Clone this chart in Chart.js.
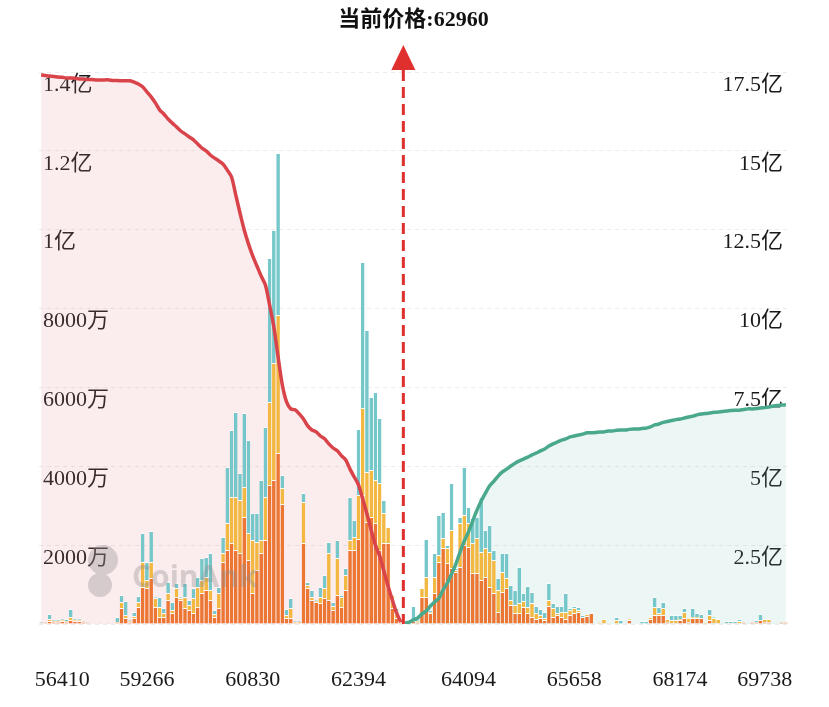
<!DOCTYPE html>
<html>
<head>
<meta charset="utf-8">
<script src="https://cdn.jsdelivr.net/npm/chart.js@4"></script>
<style>
  html, body { margin: 0; background: #fff; }
  #wrap { width: 829px; height: 707px; }
</style>
</head>
<body>
<div id="wrap"><canvas id="myChart"></canvas></div>
<script>
  // price bins (177), only some carry a tick label
  const xTickIdx  = [5, 25, 50, 75, 101, 126, 151, 171];
  const xTickText = ['56410', '59266', '60830', '62394', '64094', '65658', '68174', '69738'];
  const currentPrice = 62960;
  const currentIdx = 85.6;   // bin position of current price

  // liquidation per bin, in 万
  const orange = [
    25,25,76,51,51,76,51,101,76,76,
    51,25,13,0,0,0,0,13,25,406,
    152,51,152,431,938,913,1167,431,178,178,
    609,279,685,609,406,355,279,431,786,862,
    609,178,406,1572,1877,2054,1877,1801,2714,1623,
    786,1370,1801,2130,3525,3652,4337,3043,152,152,
    25,25,2054,913,609,558,533,659,609,355,
    735,431,862,1877,1877,2156,3272,2587,2714,2561,
    1877,2054,2054,406,152,25,25,25,76,51,
    685,685,279,786,1572,1927,1547,1420,1319,1446,
    2004,1953,1293,1293,1116,1192,938,786,304,812,
    913,482,279,279,431,279,178,127,152,101,
    456,178,228,178,127,228,279,304,178,203,
    279,0,0,25,0,0,0,0,0,101,
    0,0,0,0,127,228,228,228,51,25,
    25,101,152,51,152,152,152,0,101,25,
    25,0,25,25,25,25,51,0,51,51,
    101,51,51,0,0,51,51
  ];
  const yellow = [
    0,13,51,25,25,25,25,76,25,25,
    13,13,0,0,0,0,0,0,25,152,
    76,25,51,127,634,203,406,228,254,101,
    178,76,228,51,279,127,380,507,330,330,
    254,76,380,228,685,1167,1344,1344,761,685,
    1344,710,330,1091,2105,2967,3500,406,76,254,
    25,25,1040,76,76,25,152,254,1192,101,
    938,254,380,254,330,1116,2206,1268,1192,1091,
    1699,761,406,330,101,25,0,25,51,25,
    228,507,25,406,178,254,380,964,51,1116,
    761,609,761,888,710,735,888,837,558,507,
    254,127,203,254,152,152,355,152,76,51,
    152,228,51,127,178,127,127,51,0,51,
    0,0,51,101,25,0,101,0,0,25,
    0,0,0,0,51,203,51,178,76,76,
    76,25,152,101,25,25,0,51,127,127,
    101,0,0,0,0,51,0,0,0,0,
    0,76,76,0,25,0,0
  ];
  const teal = [
    25,25,127,25,25,25,51,203,25,25,
    25,25,0,0,25,0,25,0,127,178,
    355,25,101,152,735,456,786,25,254,127,
    279,203,127,25,355,127,254,254,558,507,
    938,101,152,406,1420,1699,2156,685,1877,2359,
    685,735,1522,1775,3652,3373,4108,330,152,254,
    25,25,228,76,178,25,254,330,279,101,
    456,51,178,1091,431,1674,3703,3601,1851,2232,
    1648,330,0,0,152,51,25,25,330,25,
    0,964,51,609,1014,659,76,1192,51,152,
    1217,406,634,533,1395,456,685,254,304,482,
    634,380,380,913,203,533,279,178,152,152,
    431,127,178,152,482,51,51,76,51,0,
    0,0,0,0,0,0,76,101,0,0,
    0,0,76,76,0,254,152,152,0,127,
    127,101,101,0,228,101,101,0,152,25,
    0,25,51,51,51,51,0,25,0,51,
    152,0,0,25,0,0,0
  ];

  // cumulative, in 亿 (left of price / right of price)
  const longCum = [
    17.41,17.39,17.37,17.36,17.34,17.33,17.31,17.31,17.30,17.28,
    17.28,17.26,17.26,17.25,17.25,17.25,17.25,17.23,17.23,17.22,
    17.22,17.22,17.18,17.12,17.03,16.87,16.71,16.52,16.30,16.17,
    16.01,15.88,15.76,15.63,15.54,15.44,15.35,15.22,15.09,15.00,
    14.87,14.77,14.68,14.58,14.39,14.17,13.60,13.03,12.49,12.05,
    11.67,11.35,11.03,10.75,10.11,9.42,8.47,7.58,7.04,6.82,
    6.79,6.66,6.50,6.28,6.15,6.09,5.96,5.87,5.71,5.58,
    5.49,5.33,5.20,4.91,4.66,4.41,3.96,3.49,2.98,2.50,
    2.16,1.68,1.20,0.76,0.35,0.06
  ];
  const shortCum = [
    0.03,0.06,0.13,0.19,0.32,0.41,0.57,0.70,0.82,1.08,
    1.30,1.59,1.90,2.28,2.63,2.92,3.27,3.61,3.90,4.15,
    4.38,4.53,4.69,4.82,4.91,5.01,5.10,5.17,5.23,5.29,
    5.36,5.42,5.49,5.55,5.64,5.71,5.77,5.83,5.87,5.93,
    5.96,5.99,6.02,6.06,6.06,6.07,6.09,6.09,6.12,6.12,
    6.14,6.15,6.15,6.17,6.18,6.18,6.20,6.21,6.25,6.31,
    6.34,6.39,6.42,6.45,6.48,6.50,6.53,6.56,6.59,6.63,
    6.66,6.67,6.69,6.71,6.72,6.74,6.75,6.77,6.78,6.78,
    6.80,6.82,6.82,6.83,6.85,6.86,6.88,6.91,6.93,6.94,
    6.95
  ];

  const N = orange.length;
  const bins = orange.map((_, i) => String(i));
  const longLine = longCum.concat(Array(N - longCum.length).fill(null));
  const shortLine = Array(N - shortCum.length).fill(null).concat(shortCum);

  const serif = "'Liberation Serif', 'Noto Sans CJK SC', serif";

  const marker = {
    id: 'marker',
    afterDatasetsDraw(chart) {
      const { ctx, chartArea, scales } = chart;
      const px = scales.x.getPixelForValue(currentIdx);
      ctx.save();
      // watermark
      ctx.fillStyle = 'rgba(140,140,140,0.35)';
      ctx.font = "bold 30px 'Open Sans', sans-serif";
      ctx.textBaseline = 'middle';
      ctx.fillText('CoinAnk', 132, 578);
      ctx.beginPath();
      ctx.arc(103, 560, 15, 0, Math.PI * 2);
      ctx.arc(100, 585, 12, 0, Math.PI * 2);
      ctx.fill();
      // current price line
      ctx.strokeStyle = '#e0302e';
      ctx.lineWidth = 3;
      ctx.setLineDash([11, 6]);
      ctx.beginPath();
      ctx.moveTo(px, chartArea.top - 2);
      ctx.lineTo(px, chartArea.bottom);
      ctx.stroke();
      ctx.setLineDash([]);
      ctx.fillStyle = '#e0302e';
      ctx.beginPath();
      ctx.moveTo(px, chartArea.top - 27);
      ctx.lineTo(px - 12, chartArea.top - 2);
      ctx.lineTo(px + 12, chartArea.top - 2);
      ctx.closePath();
      ctx.fill();
      // title
      ctx.fillStyle = '#111';
      ctx.font = "bold 22px " + serif;
      ctx.textAlign = 'center';
      ctx.fillText('当前价格:' + currentPrice, (chartArea.left + chartArea.right) / 2, 20);
      ctx.restore();
    }
  };

  const barDs = (data, color) => ({
    type: 'bar',
    data: data,
    backgroundColor: color,
    borderColor: 'rgba(255,255,255,0.8)',
    borderWidth: { top: 1, left: 0, right: 0, bottom: 0 },
    borderSkipped: false,
    barPercentage: 0.86,
    categoryPercentage: 1,
    yAxisID: 'y',
    order: 1
  });

  new Chart(document.getElementById('myChart'), {
    data: {
      labels: bins,
      datasets: [
        barDs(orange, '#ec7634'),
        barDs(yellow, '#f3b841'),
        barDs(teal, '#76c7c9'),
        {
          type: 'line',
          data: longLine,
          borderColor: '#d9434a',
          borderWidth: 3.5,
          backgroundColor: 'rgba(225,130,140,0.15)',
          fill: 'origin',
          pointRadius: 0,
          tension: 0.3,
          yAxisID: 'y1',
          order: 0
        },
        {
          type: 'line',
          data: shortLine,
          borderColor: '#4aa98c',
          borderWidth: 3.5,
          backgroundColor: 'rgba(120,190,185,0.14)',
          fill: 'origin',
          pointRadius: 0,
          tension: 0.3,
          yAxisID: 'y1',
          order: 0
        }
      ]
    },
    options: {
      responsive: true,
      maintainAspectRatio: false,
      animation: false,
      layout: { padding: { top: 72, left: 0, right: 0, bottom: 0 } },
      plugins: {
        legend: { display: false },
        tooltip: { enabled: false },
        filler: { drawTime: 'beforeDatasetsDraw' }
      },
      scales: {
        x: {
          stacked: true,
          grid: { display: false },
          border: { display: false },
          afterFit: s => { s.height = 83; },
          ticks: {
            autoSkip: false,
            maxRotation: 0,
            padding: 35,
            color: '#1a1a1a',
            font: { family: serif, size: 22 },
            callback: (v, i) => {
              const k = xTickIdx.indexOf(i);
              return k >= 0 ? xTickText[k] : '';
            }
          }
        },
        y: {
          stacked: true,
          position: 'left',
          min: 0,
          max: 14000,
          afterFit: s => { s.width = 39; },
          grid: { color: 'rgba(0,0,0,0.08)', drawTicks: false },
          border: { display: false, dash: [4, 4] },
          ticks: {
            stepSize: 2000,
            mirror: true,
            padding: 4,
            labelOffset: 13,
            color: '#1a1a1a',
            font: { family: serif, size: 22 },
            callback: v => v === 0 ? '' : (v >= 10000 ? (v / 10000) + '亿' : v + '万')
          }
        },
        y1: {
          position: 'right',
          min: 0,
          max: 17.5,
          afterFit: s => { s.width = 41; },
          grid: { display: false, drawTicks: false },
          border: { display: false },
          ticks: {
            stepSize: 2.5,
            mirror: true,
            padding: -5,
            labelOffset: 13,
            color: '#1a1a1a',
            font: { family: serif, size: 22 },
            callback: v => v === 0 ? '' : v + '亿'
          }
        }
      }
    },
    plugins: [marker]
  });
</script>
</body>
</html>
